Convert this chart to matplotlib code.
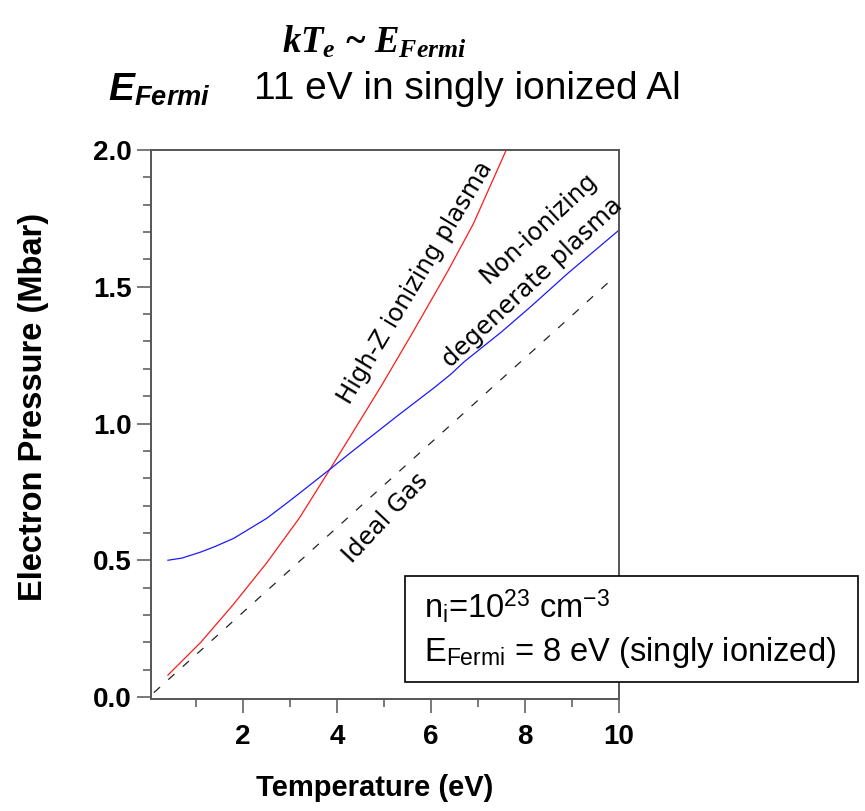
import matplotlib
matplotlib.use("Agg")
import matplotlib.pyplot as plt
from matplotlib.patches import Rectangle
from matplotlib.ticker import MultipleLocator, FixedLocator, FormatStrFormatter

plt.rcParams["mathtext.fontset"] = "custom"
plt.rcParams["mathtext.it"] = "Liberation Serif:italic:bold"
plt.rcParams["mathtext.sf"] = "Liberation Sans:italic:bold"
plt.rcParams["mathtext.rm"] = "Liberation Sans"
plt.rcParams["lines.scale_dashes"] = False

# Ideal gas electron pressure (Mbar) vs temperature (eV)
temp_ideal = [0.1, 1, 2, 3, 4, 5, 6, 7, 8, 9, 9.8]
p_ideal = [0.016, 0.155, 0.31, 0.465, 0.62, 0.775, 0.93, 1.085, 1.24, 1.395, 1.52]

# High-Z ionizing plasma
temp_highz = [0.4, 1.1, 1.8, 2.5, 3.2, 3.85, 4.45, 4.95, 5.6, 6.35, 6.9, 7.6]
p_highz = [0.08, 0.20, 0.34, 0.49, 0.655, 0.833, 1.0, 1.14, 1.33, 1.555, 1.73, 2.0]

# Non-ionizing degenerate plasma
temp_degen = [0.4, 0.7, 1.1, 1.4, 1.8, 2.5, 2.9, 3.2, 3.85, 4.3, 5.3, 6.06,
              6.42, 6.7, 7.5, 8.12, 8.91, 10.0]
p_degen = [0.50, 0.508, 0.53, 0.55, 0.58, 0.653, 0.705, 0.745, 0.833, 0.895,
           1.03, 1.13, 1.18, 1.225, 1.335, 1.427, 1.549, 1.707]

x_major = [2, 4, 6, 8, 10]
x_minor = [1, 3, 5, 7, 9]

W, H = 865, 811
fig = plt.figure(figsize=(W / 100, H / 100), dpi=100)
fig.patch.set_facecolor("white")


def fx(px):
    return px / W


def fy(py):
    return 1 - py / H


ax = fig.add_axes([fx(151), fy(697), fx(619) - fx(151), fy(150) - fy(697)])
ax.set_xlim(0.04, 10.0)
ax.set_ylim(0, 2.0)

ax.plot(temp_ideal, p_ideal, color="#222222", lw=0.9, dashes=(6.0, 8.0))
ax.plot(temp_highz, p_highz, color="#ff1a1a", lw=0.9)
ax.plot(temp_degen, p_degen, color="#1a1aff", lw=0.9)

spine_col = "#555555"
for s in ax.spines.values():
    s.set_color(spine_col)
    s.set_linewidth(1.4)
ax.spines["bottom"].set_position(("outward", 1.5))

ax.xaxis.set_major_locator(FixedLocator(x_major))
ax.xaxis.set_minor_locator(FixedLocator(x_minor))
ax.yaxis.set_major_locator(MultipleLocator(0.5))
ax.yaxis.set_minor_locator(MultipleLocator(0.1))
ax.yaxis.set_major_formatter(FormatStrFormatter("%.1f"))
ax.tick_params(which="both", direction="out", color=spine_col, width=1.1)
ax.tick_params(which="major", length=10)
ax.tick_params(which="minor", length=5.5)
ax.tick_params(axis="y", which="major", pad=4)
ax.tick_params(axis="x", which="major", pad=8)
for lab in ax.get_xticklabels() + ax.get_yticklabels():
    lab.set_fontfamily("Liberation Sans")
    lab.set_fontweight("bold")
    lab.set_fontsize(20)

lab_font = dict(family="DejaVu Sans", fontsize=17.5, ha="center", va="center",
                rotation_mode="anchor")
ax.text(5.66, 1.514, "High-Z ionizing plasma", rotation=59, **lab_font)
ax.text(8.29, 1.715, "Non-ionizing", rotation=43, **lab_font)
ax.text(8.15, 1.514, "degenerate plasma", rotation=43, **lab_font)
ax.text(5.03, 0.654, "Ideal Gas", rotation=47, **lab_font)

fig.text(fx(34), fy(407), "Electron Pressure (Mbar)", rotation=90,
         family="Liberation Sans", weight="bold", fontsize=23.5,
         ha="center", va="center")
fig.text(fx(375), fy(788), "Temperature (eV)", family="Liberation Sans",
         weight="bold", fontsize=21, ha="center", va="center")

fig.text(fx(374), fy(42), r"$kT_e$ ~ $E_{Fermi}$", family="Liberation Serif",
         weight="bold", style="italic", fontsize=26.5, ha="center", va="center")
fig.text(fx(108), fy(100), r"$\mathsf{E}_\mathsf{Fermi}$", fontsize=28,
         ha="left", va="baseline")
fig.text(fx(254), fy(99), "11 eV in singly ionized Al", family="Liberation Sans",
         fontsize=28, ha="left", va="baseline")

box = Rectangle((fx(405), fy(682)), fx(858) - fx(405), fy(576) - fy(682),
                transform=fig.transFigure, facecolor="white", edgecolor="black",
                linewidth=1.2, zorder=5)
fig.add_artist(box)
fig.text(fx(424), fy(606), r"n$_\mathrm{i}$=10$^{23}$ cm$^{-3}$",
         family="Liberation Sans", fontsize=23.5, ha="left", va="center", zorder=6)
fig.text(fx(424), fy(652), r"E$_\mathrm{Fermi}$ = 8 eV (singly ionized)",
         family="Liberation Sans", fontsize=23.5, ha="left", va="center", zorder=6)

fig.savefig("out.png", dpi=100, facecolor="white")
